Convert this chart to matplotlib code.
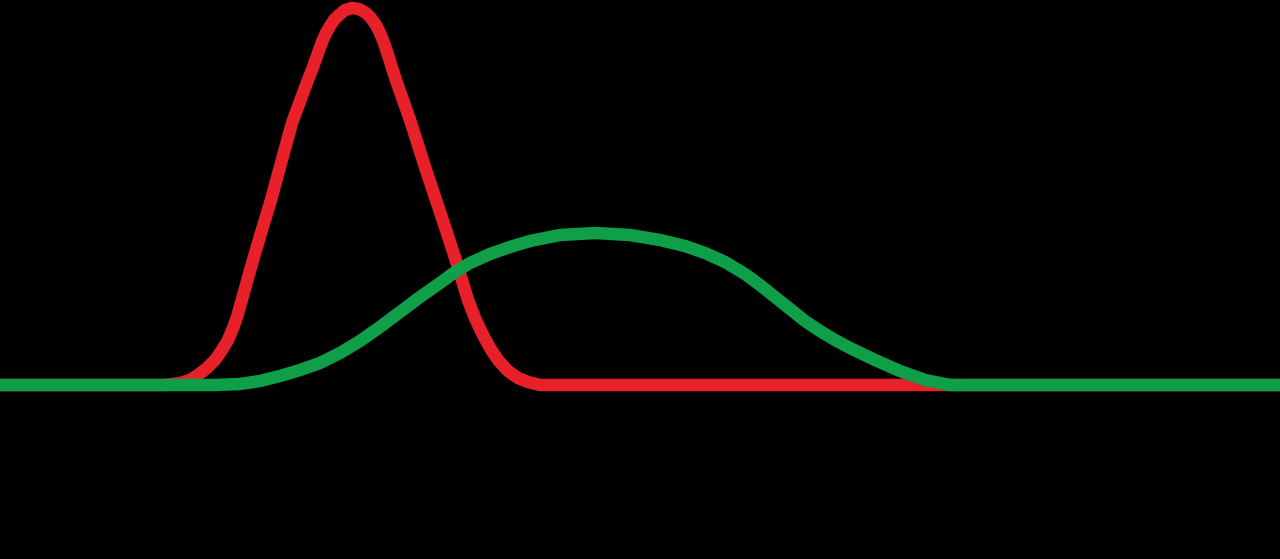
import matplotlib
matplotlib.use("Agg")  # sin ventana
import matplotlib.pyplot as plt

# Curva roja (estrecha): puntos, eje en píxeles
rojo_x = [0, 165, 180, 190, 198, 207, 215, 222, 228, 233, 237, 244, 251, 261, 271,
          281, 292, 299, 306, 313, 318, 322, 326, 330, 334, 339, 345, 352, 359,
          366, 371, 376, 380, 384, 388, 392, 397, 403, 410, 418, 425, 436, 447,
          458, 468, 475, 482, 490, 498, 508, 518, 528, 540, 1280]
rojo_y = [385, 385, 383, 380, 375, 368, 360, 350, 340, 328, 317, 292, 267, 233, 200,
          163, 123, 104, 85, 67, 53, 42, 33, 26, 20, 15, 10, 8, 9,
          13, 18, 25, 33, 43, 55, 68, 83, 100, 120, 145, 167, 200, 233,
          267, 300, 318, 333, 348, 360, 371, 378, 382, 385, 385]

# Curva verde (ancha)
verde_x = [0, 215, 240, 260, 280, 300, 320, 340, 360, 380, 400, 420, 440, 455, 470,
           490, 510, 530, 560, 595, 630, 660, 685, 705, 725, 745, 760, 775, 790,
           805, 820, 835, 850, 875, 900, 925, 950, 1280]
verde_y = [385, 385, 384, 381, 376, 370, 363, 353, 341, 327, 312, 297, 283, 272, 263,
           254, 247, 241, 235, 233, 235, 240, 246, 253, 262, 274, 285, 297, 309,
           321, 331, 340, 348, 360, 371, 380, 385, 385]

COLOR_ROJO = "#e8202a"
COLOR_VERDE = "#0e9f48"
GROSOR = 9.0

fig = plt.figure(figsize=(12.8, 5.59), dpi=100, facecolor="black")
ax = fig.add_axes([0, 0, 1, 1], facecolor="black")

ax.plot(rojo_x, rojo_y, color=COLOR_ROJO, linewidth=GROSOR,
        solid_joinstyle="round", solid_capstyle="butt")
ax.plot(verde_x, verde_y, color=COLOR_VERDE, linewidth=GROSOR,
        solid_joinstyle="round", solid_capstyle="butt")

ax.set_xlim(0, 1280)
ax.set_ylim(559, 0)
ax.axis("off")

fig.savefig("out.png", dpi=100, facecolor="black")
plt.close(fig)
